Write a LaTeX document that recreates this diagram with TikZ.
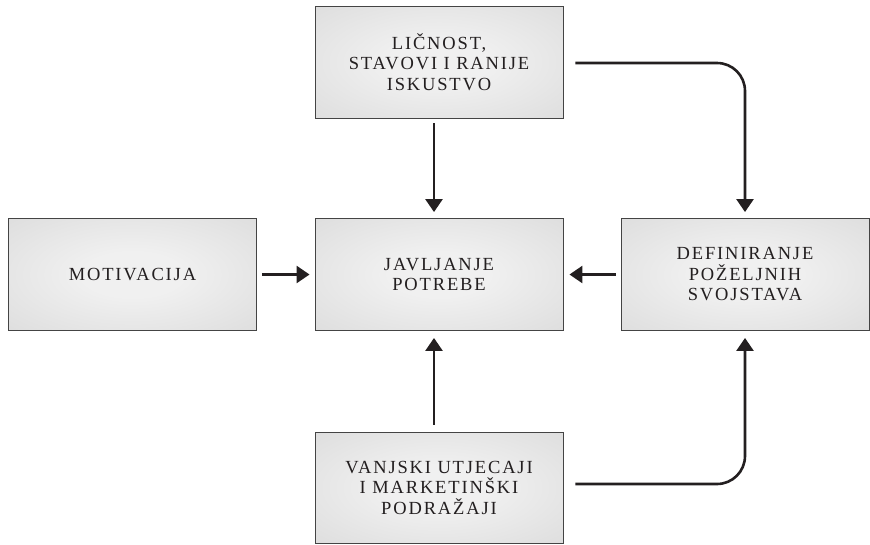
\documentclass[tikz,border=0pt]{standalone}
\usepackage{fontspec}
\setmainfont{Liberation Serif}[LetterSpace=10]
\usetikzlibrary{arrows.meta}
\definecolor{boxin}{HTML}{F0F0F0}
\definecolor{boxout}{HTML}{D4D4D4}
\definecolor{boxline}{HTML}{444444}
\definecolor{ink}{HTML}{231F20}
\pgfdeclareradialshading{boxglow}{\pgfpoint{0bp}{0bp}}{color(0bp)=(boxin); color(10bp)=(boxin); color(50bp)=(boxout); color(72bp)=(boxout)}
\begin{document}
\begin{tikzpicture}[x=1pt,y=-1pt,
  stage/.style={draw=boxline, line width=0.9pt, shading=boxglow,
    minimum width=248pt, minimum height=112pt, inner sep=0pt,
    align=center, text=ink, font=\fontsize{18.5}{20.5}\selectfont},
  link/.style={draw=ink, line width=2.6pt, -{Triangle[width=17pt,length=13pt]}},
]
\useasboundingbox (0,0) rectangle (870,544);

% stages of the decision process
\node[stage] (top)    at (439,62)    {LIČNOST,\\STAVOVI I RANIJE\\ISKUSTVO};
\node[stage] (mid)    at (439,274.5) {JAVLJANJE\\POTREBE};
\node[stage] (left)   at (132.5,274.5) {MOTIVACIJA};
\node[stage] (right)  at (745,274.5) {DEFINIRANJE\\POŽELJNIH\\SVOJSTAVA};
\node[stage, minimum height=111pt] (bottom) at (439,487.5) {VANJSKI UTJECAJI\\I MARKETINŠKI\\PODRAŽAJI};

% straight connectors into the central stage
\draw[link, shorten <=5pt, shorten >=6pt] ([xshift=-5pt]top.south) -- ([xshift=-5pt]mid.north);
\draw[link, shorten <=7pt, shorten >=7pt] ([xshift=-5pt]bottom.north) -- ([xshift=-5pt]mid.south);
\draw[link, shorten <=5pt, shorten >=5pt] (left.east) -- (mid.west);
\draw[link, shorten <=5pt, shorten >=6pt] (right.west) -- (mid.east);

% rounded connectors into the right stage
\draw[link, rounded corners=28pt, shorten >=6pt] ([xshift=12pt,yshift=-1pt]top.east) -| (right.north);
\draw[link, rounded corners=28pt, shorten >=7pt] ([xshift=12pt,yshift=3.5pt]bottom.east) -| (right.south);
\end{tikzpicture}
\end{document}
